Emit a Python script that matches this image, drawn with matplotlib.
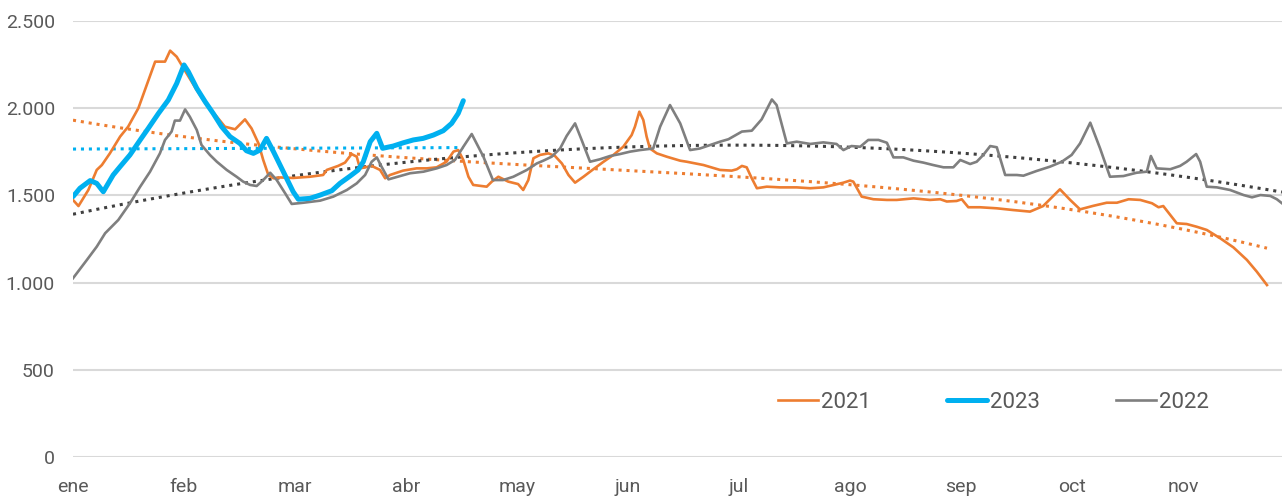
import matplotlib
matplotlib.use('Agg')
import matplotlib.pyplot as plt
import numpy as np

plt.rcParams['font.family'] = ['Roboto', 'DejaVu Sans']

# day index (0 = start of ene)
dias_2021 = [0, 1.5, 4.2, 6.5, 7.9, 10.1, 12.9, 15.1, 17.9, 20.2, 22.5, 25.2, 26.6, 28.4, 31.1,
             33.9, 36.6, 39.4, 41.6, 44.4, 47.1, 48.9, 50.8, 52.1, 53.5, 54.9, 56.7, 60.3, 64.9,
             68.5, 69.5, 72.6, 74.5, 76.3, 77.7, 78.6, 81.8, 84.1, 85.5, 86.8, 90.4, 94.1, 96.9,
             99.6, 102.3, 104.2, 105.5, 106.9, 108.3, 109.6, 113.3, 114.7, 116.5, 119.2, 121.9,
             123.3, 124.7, 126.1, 127.9, 130.2, 132.0, 133.9, 135.7, 137.5, 139.8, 142.5, 145.3,
             148.0, 150.7, 153.0, 153.9, 155.1, 156.2, 157.1, 158.0, 159.9, 162.6, 166.3, 168.1,
             172.7, 177.2, 180.4, 181.8, 183.2, 184.5, 185.9, 187.3, 190.0, 193.6, 198.2, 201.9,
             205.5, 208.3, 211.0, 212.8, 213.7, 216.0, 219.2, 222.9, 225.6, 230.2, 234.7, 237.5,
             239.3, 242.0, 243.4, 245.2, 248.4, 253.0, 257.5, 262.1, 265.7, 270.3, 273.1, 275.8,
             279.4, 283.1, 285.9, 289.1, 292.3, 295.5, 297.3, 298.6, 300.5, 302.3, 305.0, 307.8,
             310.5, 314.2, 317.8, 321.5, 324.2, 327.0]
val_2021 = [1474, 1439, 1531, 1646, 1674, 1741, 1837, 1894, 2000, 2133, 2267, 2267, 2330, 2295, 2200,
            2104, 2018, 1951, 1894, 1879, 1936, 1884, 1798, 1703, 1617, 1598, 1603, 1600, 1607,
            1617, 1646, 1669, 1688, 1737, 1722, 1655, 1669, 1646, 1598, 1617, 1642, 1655, 1655,
            1661, 1693, 1751, 1760, 1703, 1607, 1560, 1550, 1579, 1607, 1579, 1565,
            1531, 1588, 1713, 1732, 1741, 1726, 1683, 1617, 1573, 1607, 1650, 1693,
            1732, 1779, 1846, 1894, 1980, 1932, 1837, 1769, 1741, 1722, 1699, 1693,
            1674, 1646, 1642, 1650, 1669, 1661, 1598, 1541, 1550, 1546, 1546, 1541,
            1546, 1560, 1573, 1585, 1579, 1493, 1478, 1474, 1474, 1483, 1474, 1478,
            1465, 1468, 1478, 1432, 1432, 1426, 1416, 1407, 1439, 1535, 1474, 1420,
            1440, 1458, 1458, 1478, 1474, 1455, 1432, 1439, 1388, 1340, 1336, 1320,
            1302, 1254, 1202, 1130, 1063, 986]

dias_2023 = [0, 1.9, 4.7, 6.5, 8.3, 11.0, 12.9, 15.6, 18.4, 20.6, 23.4, 26.1, 28.4, 30.4, 31.6,
             33.9, 36.2, 38.4, 40.7, 43.0, 45.7, 47.5, 49.4, 51.2, 53.0, 54.9, 57.6, 60.3, 61.7,
             64.9, 67.7, 70.9, 73.1, 75.9, 78.1, 79.5, 81.4, 83.2, 84.8, 87.7, 90.5, 93.2, 95.9,
             98.7, 101.4, 103.7, 105.5, 106.9]
val_2023 = [1493, 1541, 1585, 1569, 1521, 1617, 1665, 1732, 1818, 1884, 1970, 2047, 2142, 2248, 2209,
            2114, 2037, 1970, 1894, 1837, 1798, 1756, 1741, 1760, 1827, 1751, 1636, 1521, 1478,
            1483, 1502, 1527, 1569, 1611, 1646, 1693, 1808, 1856, 1770, 1783, 1802, 1818, 1827,
            1846, 1871, 1913, 1970, 2043]

dias_2022 = [0, 3.8, 6.5, 8.8, 12.4, 15.6, 18.4, 21.1, 23.8, 25.2, 27.0, 27.9, 29.3, 30.7, 32.0,
             33.9, 35.2, 37.5, 39.4, 42.1, 44.8, 46.6, 48.5, 50.3, 52.1, 54.0, 55.8, 58.1, 59.9,
             63.1, 67.7, 71.3, 75.0, 77.7, 80.0, 81.8, 83.2, 84.5, 86.4, 89.6, 92.3, 96.0, 99.6,
             102.3, 104.6, 106.9, 109.2, 112.4, 115.0, 117.8, 120.6, 124.3, 127.0, 128.8, 131.1,
             133.4, 135.2, 137.5, 139.3, 141.6, 144.3, 147.1, 149.8, 152.6, 155.3, 158.9, 160.8,
             163.5, 166.3, 169.0, 171.7, 174.5, 177.2, 179.5, 183.2, 185.9, 188.6, 191.4, 192.7,
             195.5, 198.2, 201.9, 205.5, 209.1, 211.0, 213.2, 215.6, 217.8, 220.6, 222.9, 224.7,
             227.4, 230.2, 232.9, 235.6, 238.4, 241.1, 243.0, 245.7, 247.5, 249.3, 251.2, 253.0,
             255.3, 258.5, 260.3, 263.9, 267.6, 270.8, 273.5, 275.8, 278.6, 281.3, 284.0, 287.7,
             291.3, 294.1, 295.2, 296.8, 300.5, 303.2, 305.0, 307.6, 308.7, 310.5, 313.3, 316.9,
             320.6, 322.9, 325.2, 327.9, 329.7, 331.1]
val_2022 = [1025, 1130, 1206, 1283, 1359, 1455, 1550, 1636, 1741, 1818, 1866, 1929, 1929, 1993, 1951,
            1875, 1789, 1732, 1693, 1646, 1607, 1579, 1560, 1554, 1588, 1630, 1588, 1512, 1451,
            1458, 1470, 1493, 1531, 1569, 1617, 1693, 1718, 1665, 1592, 1611, 1627, 1636, 1655,
            1674, 1703, 1779, 1852, 1722, 1588, 1588, 1607, 1646, 1683, 1699, 1722,
            1769, 1841, 1913, 1818, 1693, 1707, 1726, 1737, 1751, 1760, 1769, 1894,
            2018, 1913, 1760, 1769, 1789, 1808, 1822, 1866, 1871, 1936, 2050, 2018,
            1798, 1808, 1795, 1804, 1795, 1760, 1783, 1779, 1818, 1818, 1802, 1718,
            1718, 1699, 1688, 1674, 1661, 1661, 1703, 1680, 1693, 1732, 1783, 1776,
            1617, 1617, 1613, 1640, 1665, 1693, 1732, 1798, 1917, 1769, 1607, 1611,
            1630, 1636, 1726, 1655, 1650, 1669, 1693, 1737, 1693, 1550, 1546, 1531,
            1502, 1489, 1502, 1497, 1478, 1455]

meses = ['ene', 'feb', 'mar', 'abr', 'may', 'jun', 'jul', 'ago', 'sep', 'oct', 'nov']
dias_mes = 30.4

c2021 = '#ED7D31'
c2023 = '#00B0F0'
c2022 = '#7F7F7F'

fig = plt.figure(figsize=(12.82, 4.96), dpi=100)
ax = fig.add_axes([73 / 1282, 39 / 496, 1209 / 1282, 436 / 496])

ax.plot(dias_2021, val_2021, color=c2021, lw=1.9, label='2021', zorder=3)
ax.plot(dias_2023, val_2023, color=c2023, lw=3.6, label='2023', zorder=4,
        solid_capstyle='round')
ax.plot(dias_2022, val_2022, color=c2022, lw=1.9, label='2022', zorder=3)

# trend lines: polynomial for 2021 / 2022, linear for 2023
# fitted on a daily grid, like the original daily series
dot = (0, (1, 1.6))
for xs, ys, grado, col in [(dias_2021, val_2021, 3, c2021),
                           (dias_2023, val_2023, 1, c2023),
                           (dias_2022, val_2022, 2, '#404040')]:
    xd = np.arange(0, max(xs) + 0.01, 1.0)
    yd = np.interp(xd, xs, ys)
    coef = np.polyfit(xd, yd, grado)
    xt = np.linspace(0, max(xs), 200)
    ax.plot(xt, np.polyval(coef, xt), color=col, lw=2.2, linestyle=dot, zorder=2)

ax.set_ylim(0, 2500)
ax.set_xlim(0, 1209 * dias_mes / 111)
ax.set_yticks(range(0, 2501, 500))
ax.set_yticklabels(['0', '500', '1.000', '1.500', '2.000', '2.500'])
ax.set_xticks([i * dias_mes for i in range(len(meses))])
ax.set_xticklabels(meses)
ax.tick_params(axis='both', length=0, labelsize=14, labelcolor='#595959')
ax.tick_params(axis='x', pad=15)
ax.tick_params(axis='y', pad=13)
ax.grid(axis='y', color='#D9D9D9', lw=1.5)
ax.set_axisbelow(True)
for s in ax.spines.values():
    s.set_visible(False)

leg = ax.legend(loc='center left', bbox_to_anchor=((767 - 73) / 1209, 55 / 436), ncol=3,
                frameon=False, fontsize=16, borderpad=0, handlelength=1.8,
                handletextpad=0.15, columnspacing=3.4)
for t in leg.get_texts():
    t.set_color('#595959')

plt.savefig('out.png', dpi=100)
